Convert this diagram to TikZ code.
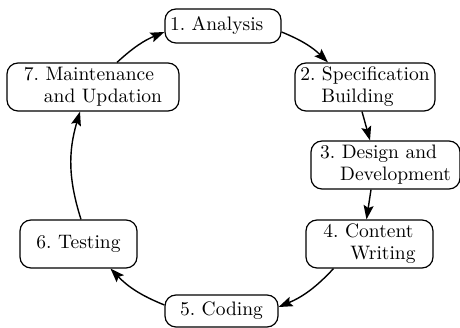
\documentclass[tikz,border=0pt]{standalone}
\usepackage{fontspec}
\setmainfont{lmroman10-regular.otf}
\usetikzlibrary{arrows.meta}

\begin{document}
\frenchspacing
\begin{tikzpicture}[x=1pt, y=1pt, >={Stealth[length=14pt, width=10pt, inset=2.5pt]},
        stage/.style={draw, line width=1.2pt, rounded corners=11pt, align=left,
            minimum height=48pt, inner sep=2pt, font=\fontsize{19.5}{22}\selectfont},
        flow/.style={->, line width=1.4pt}]

        % Fixed canvas, same proportions as the reference
        \useasboundingbox (0,0) rectangle (460,328);

        % The seven stages, placed clockwise
        \node[stage, text width=106pt, inner xsep=5pt, minimum height=34pt] (analysis) at (223,302) {1. Analysis};
        \node[stage, minimum width=140pt] (spec) at (365,241) {2. Specification\\\hspace{21pt}Building};
        \node[stage, minimum width=149pt] (design) at (385.5,163) {3. Design and\\\hspace{20pt}Development};
        \node[stage, minimum width=127pt] (content) at (369.5,84) {4. Content\\\hspace{27pt}Writing};
        \node[stage, minimum width=113pt, minimum height=32pt] (coding) at (221.5,17) {5. Coding};
        \node[stage, minimum width=117pt] (testing) at (78.5,84) {6. Testing};
        \node[stage, minimum width=172pt] (maint) at (93,241) {7. Maintenance\\\hspace{20pt}and Updation};

        % Arrows round the cycle (all bowing outwards)
        \draw[flow] ([yshift=-6pt]analysis.east) to[bend left=11] ([xshift=-37pt]spec.north);
        \draw[flow] ([xshift=-3pt]spec.south) -- ([xshift=-15.5pt]design.north);
        \draw[flow] ([xshift=-14.5pt]design.south) -- ([xshift=-3pt]content.north);
        \draw[flow] ([xshift=-36pt]content.south) to[bend left=12] ([yshift=4pt]coding.east);
        \draw[flow] ([yshift=6pt]coding.west) to[bend left=12] ([xshift=32pt]testing.south);
        \draw[flow] ([xshift=2.5pt]testing.north) to[bend left=17] ([xshift=-13pt]maint.south);
        \draw[flow] ([xshift=24pt]maint.north) to[bend left=10] ([yshift=-6pt]analysis.west);

\end{tikzpicture}
\end{document}
